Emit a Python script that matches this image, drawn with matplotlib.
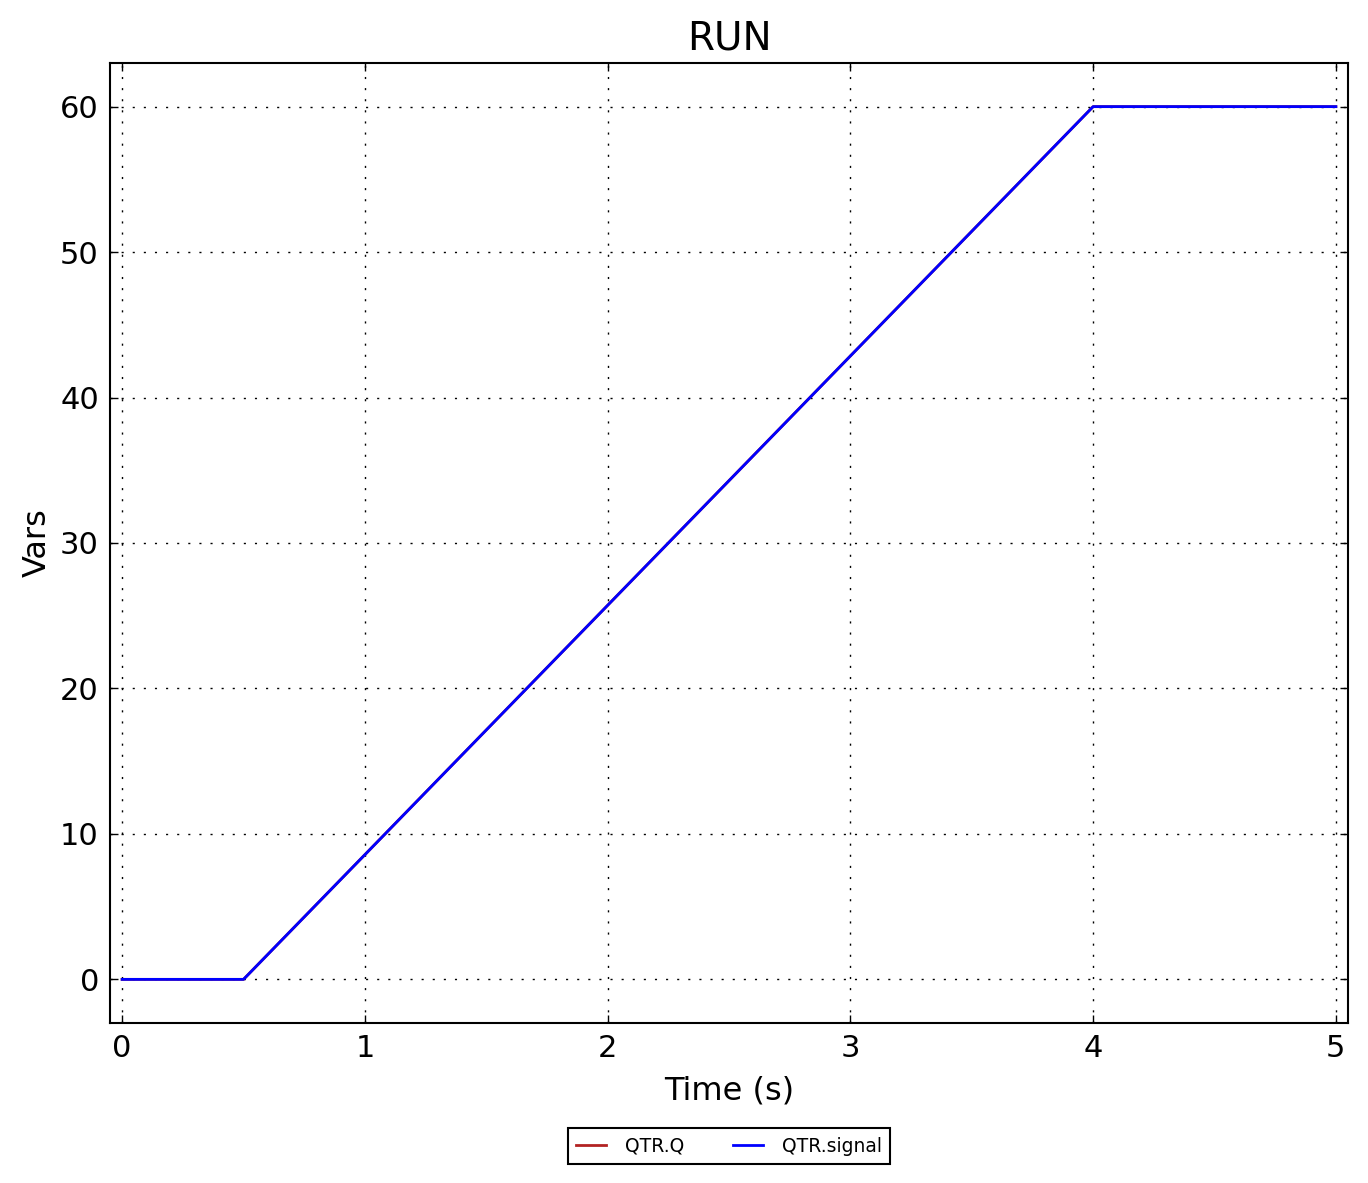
import matplotlib
matplotlib.use("Agg")

import matplotlib.pyplot as plt

# data
time_s = [0.0, 0.5, 4.0, 5.0]
qtr_q = [0.0, 0.0, 60.0, 60.0]
qtr_signal = [0.0, 0.0, 60.0, 60.0]
x_ticks = [0, 1, 2, 3, 4, 5]
y_ticks = [0, 10, 20, 30, 40, 50, 60]


def main():
    fig = plt.figure(figsize=(13.68, 11.83), dpi=100)
    ax = fig.add_axes([110 / 1368, 1 - 1023 / 1183, 1238 / 1368, 960 / 1183])

    ax.plot(time_s, qtr_q, color="#b22222", lw=2, label="QTR.Q")
    ax.plot(time_s, qtr_signal, color="blue", lw=2, label="QTR.signal")

    ax.set_xlim(-0.05, 5.05)
    ax.set_ylim(-3, 63)
    ax.set_xticks(x_ticks)
    ax.set_yticks(y_ticks)
    ax.grid(True, color="black", linestyle=(0, (1.5, 6.5)), linewidth=1)

    ax.tick_params(direction="in", top=True, right=True, length=6, width=1,
                   labelsize=22, pad=8)
    for s in ax.spines.values():
        s.set_linewidth(1.5)

    ax.set_title("RUN", fontsize=28, pad=10)
    ax.set_xlabel("Time (s)", fontsize=23, labelpad=9)
    ax.set_ylabel("Vars", fontsize=23, labelpad=5)

    leg = ax.legend(loc="upper center", bbox_to_anchor=(0.5, -0.1), ncol=2,
                    fontsize=13.5, fancybox=False, framealpha=1,
                    edgecolor="black", columnspacing=2.6, handlelength=1.6,
                    handletextpad=1.0, borderpad=0.45)
    leg.get_frame().set_linewidth(1.5)

    fig.savefig("out.png", dpi=100)
    plt.close(fig)


if __name__ == "__main__":
    main()
